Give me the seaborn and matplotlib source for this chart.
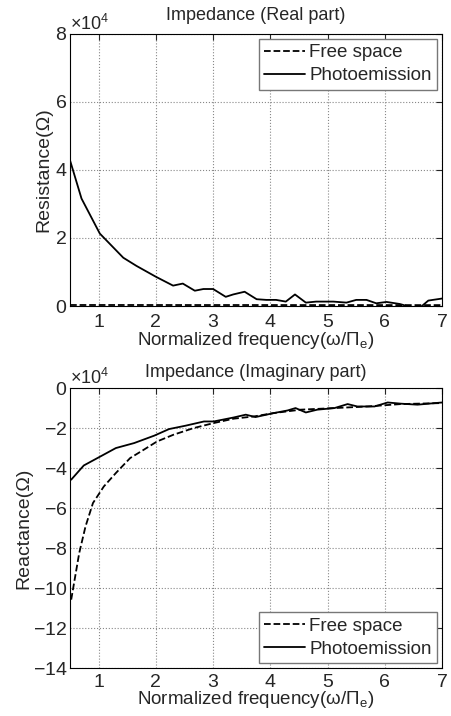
import matplotlib
matplotlib.use("Agg")
import matplotlib.pyplot as plt
import seaborn as sns
import numpy as np

# ---- data (ohms) ----
x_real_photo = [0.5, 0.7, 1.02, 1.43, 1.66, 2.0, 2.3, 2.47, 2.68, 2.83, 3.0, 3.22, 3.35,
                3.55, 3.76, 3.93, 4.1, 4.27, 4.43, 4.62, 4.8, 5.1, 5.33, 5.5, 5.68, 5.85,
                6.03, 6.26, 6.43, 6.62, 6.76, 7.0]
r_photo = [42800, 31600, 21300, 14200, 11800, 8600, 6000, 6600, 4500, 5000, 5000, 2700, 3400,
           4200, 2000, 1800, 1800, 1300, 3400, 1000, 1300, 1300, 1000, 1800, 1800, 800,
           1200, 600, -200, -400, 1600, 2200]
x_real_free = [0.5, 1.5, 2.5, 3.5, 4.5, 5.5, 6.5, 7.0]
r_free = [300, 300, 290, 290, 280, 280, 270, 270]

x_imag_photo = [0.52, 0.74, 1.03, 1.3, 1.62, 1.97, 2.23, 2.52, 2.84, 3.01, 3.36, 3.57, 3.74,
                4.06, 4.3, 4.44, 4.62, 4.82, 5.12, 5.35, 5.52, 5.82, 6.05, 6.28, 6.57, 7.0]
x_photo = [-45800, -38700, -34200, -30000, -27500, -23800, -20500, -18800, -16700, -16700,
           -14700, -13300, -14500, -12500, -11200, -10000, -12200, -10800, -10000, -8000,
           -9200, -9200, -7200, -7800, -8300, -7200]
x_imag_free = [0.52, 0.58, 0.66, 0.77, 0.9, 1.09, 1.3, 1.55, 1.79, 2.02, 2.31, 2.66, 3.01,
               3.36, 3.71, 4.06, 4.53, 5.12, 5.7, 6.28, 7.0]
x_free = [-105800, -95800, -82500, -69200, -57500, -49200, -42500, -35000, -30800, -26700,
          -23300, -20000, -17500, -15300, -14200, -12500, -10800, -10000, -9200, -8000, -7500]

xticks = [1, 2, 3, 4, 5, 6, 7]

sns.set_style("white")
plt.rcParams['font.family'] = ['Liberation Sans', 'DejaVu Sans']
plt.rcParams['mathtext.fontset'] = 'custom'
plt.rcParams['mathtext.rm'] = 'Liberation Sans'

fig = plt.figure(figsize=(4.52, 7.16), dpi=100)
ax1 = fig.add_axes([0.155, 0.5726, 0.823, 0.380])
ax2 = fig.add_axes([0.155, 0.067, 0.823, 0.391])

xlabel = 'Normalized frequency(ω/Π$_\\mathrm{e}$)'

def style(ax, xpad, lpad):
    ax.set_xlim(0.5, 7)
    ax.set_xticks(xticks)
    ax.grid(True, linestyle=':', color='#888888', linewidth=0.8)
    ax.tick_params(direction='in', length=4, labelsize=14, top=True, right=True, pad=2)
    ax.tick_params(axis='x', pad=xpad)
    for s in ax.spines.values():
        s.set_color('black')
        s.set_linewidth(0.8)
    ax.ticklabel_format(axis='y', style='sci', scilimits=(4, 4), useMathText=True)
    ax.yaxis.get_offset_text().set_fontsize(13)
    ax.set_xlabel(xlabel, fontsize=13.5, labelpad=lpad)

sns.lineplot(x=x_real_free, y=r_free, ax=ax1, color='black', linestyle='--', linewidth=1.3, label='Free space')
sns.lineplot(x=x_real_photo, y=r_photo, ax=ax1, color='black', linestyle='-', linewidth=1.3, label='Photoemission')
style(ax1, 6, -1)
ax1.set_ylim(0, 80000)
ax1.set_yticks([0, 20000, 40000, 60000, 80000])
ax1.set_ylabel('Resistance(Ω)', fontsize=14, labelpad=2)
ax1.set_title('Impedance (Real part)', fontsize=13, pad=10)
leg1 = ax1.legend(loc='upper right', fontsize=13.5, fancybox=False, framealpha=1,
                  edgecolor='#777777', borderaxespad=0.25, handlelength=2.2, handletextpad=0.2,
                  borderpad=0.3, labelspacing=0.3)

sns.lineplot(x=x_imag_free, y=x_free, ax=ax2, color='black', linestyle='--', linewidth=1.3, label='Free space')
sns.lineplot(x=x_imag_photo, y=x_photo, ax=ax2, color='black', linestyle='-', linewidth=1.3, label='Photoemission')
style(ax2, 4, -1)
ax2.set_ylim(-140000, 0)
ax2.set_yticks(list(range(-140000, 1, 20000)))
ax2.set_ylabel('Reactance(Ω)', fontsize=14, labelpad=0)
ax2.set_title('Impedance (Imaginary part)', fontsize=13, pad=8)
leg2 = ax2.legend(loc='lower right', fontsize=13.5, fancybox=False, framealpha=1,
                  edgecolor='#777777', borderaxespad=0.25, handlelength=2.2, handletextpad=0.2,
                  borderpad=0.3, labelspacing=0.3)

fig.savefig('out.png', dpi=100)
